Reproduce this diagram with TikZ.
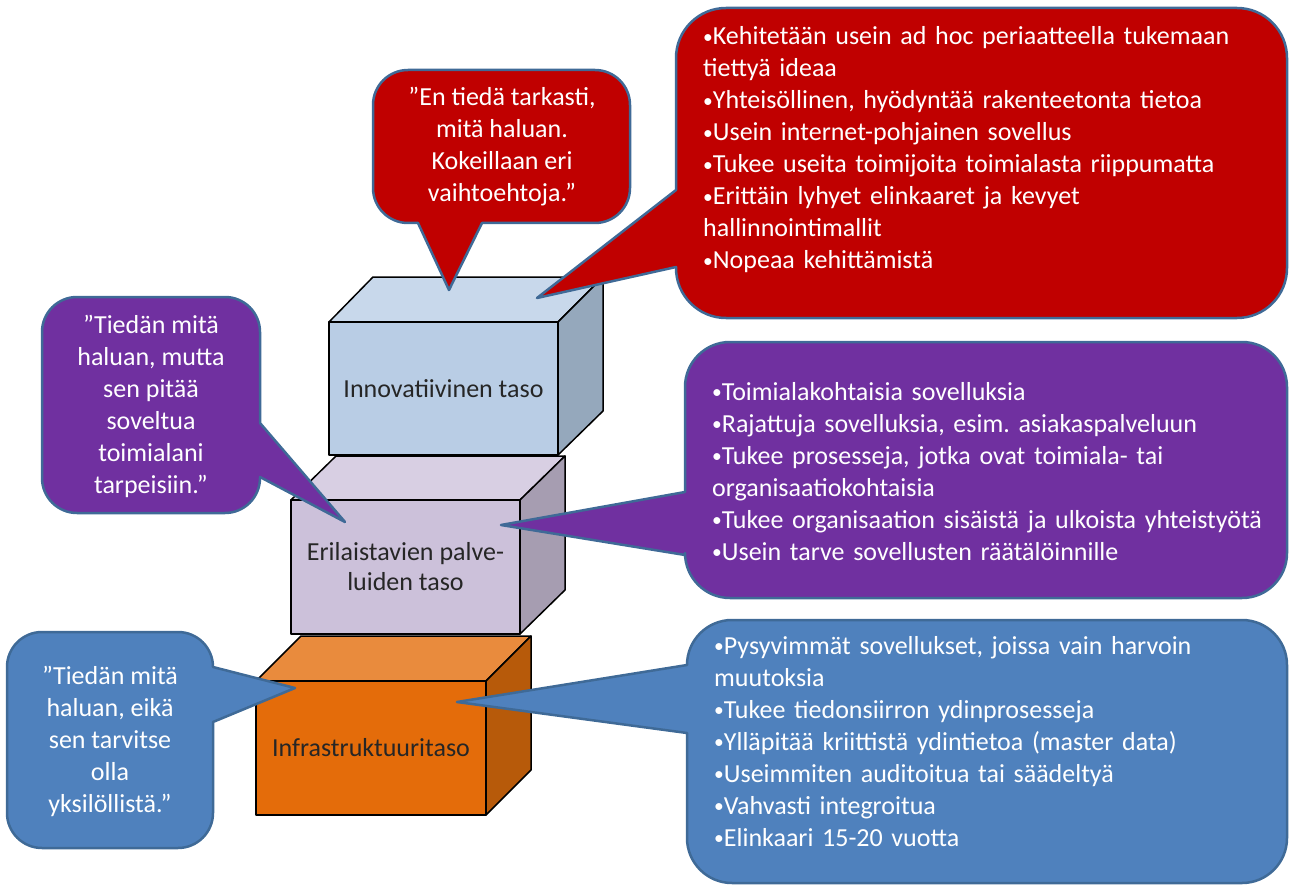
\documentclass[tikz,border=0pt]{standalone}
\usepackage{graphicx}
\usepackage{fontspec}
\setmainfont{Carlito}
\frenchspacing
\definecolor{edgeblue}{HTML}{3F6A97}
\definecolor{cred}{HTML}{C00000}
\definecolor{cpurple}{HTML}{7030A0}
\definecolor{cblue}{HTML}{4F81BD}
\definecolor{bluefront}{HTML}{B9CDE5}
\definecolor{bluetop}{HTML}{C8D8EB}
\definecolor{blueside}{HTML}{95A8BC}
\definecolor{lavfront}{HTML}{CCC1DA}
\definecolor{lavtop}{HTML}{D8CFE3}
\definecolor{lavside}{HTML}{A69DB1}
\definecolor{orfront}{HTML}{E46C0A}
\definecolor{ortop}{HTML}{E98B3D}
\definecolor{orside}{HTML}{B75A0A}
\definecolor{labeltext}{HTML}{262626}
\newcommand{\bul}{\raisebox{1.5pt}{\scalebox{0.75}{•}}}
\begin{document}
\begin{tikzpicture}[x=1pt,y=-1pt,
  cubeedge/.style={draw=black, line width=1.5, line join=round},
  cubefront/.style={cubeedge, text=labeltext, align=center, inner sep=0,
    font=\fontsize{26}{30}\selectfont},
  callout/.style={draw=edgeblue, line width=2.5, line join=round},
  ctext/.style={text=white, inner sep=0, font=\fontsize{26}{32}\selectfont},
  quote/.style={ctext, align=center},
  bullets/.style={ctext, anchor=base west, text width=575, align=left}]
\useasboundingbox (0,0) rectangle (1289,885);

% --- bottom cube: infrastructure
\path[cubeedge, fill=ortop] (256,681) -- (301,636) -- (531,636) -- (486,681) -- cycle;
\path[cubeedge, fill=orside] (486,681) -- (531,636) -- (531,770) -- (486,815) -- cycle;
\node[cubefront, fill=orfront, minimum width=230, minimum height=134] (infra) at (371,748) {Infrastruktuuritaso};

% --- middle cube
\path[cubeedge, fill=lavtop] (291,500) -- (336,456) -- (565,456) -- (520,500) -- cycle;
\path[cubeedge, fill=lavside] (520,500) -- (565,456) -- (565,590) -- (520,634) -- cycle;
\node[cubefront, fill=lavfront, minimum width=229, minimum height=134] (palvelu) at (405.5,567) {Erilaistavien palve-\\luiden taso};

% --- top cube
\path[cubeedge, fill=bluetop] (329,322) -- (373,277) -- (603,277) -- (558,322) -- cycle;
\path[cubeedge, fill=blueside] (558,322) -- (603,277) -- (603,411) -- (558,455) -- cycle;
\node[cubefront, fill=bluefront, minimum width=229, minimum height=133] (innov) at (443.5,388.5) {Innovatiivinen taso};

% --- red small callout
\path[callout, fill=cred] (500,70) [rounded corners=35] -- (630,70) -- (630,223) [sharp corners]
  -- (482,223) -- (449,290) -- (418,223) [rounded corners=35] -- (373,223) -- (373,70) -- cycle;
\node[quote] (q1) at (502,147) {”En tiedä tarkasti,\\mitä haluan.\\Kokeillaan eri\\vaihtoehtoja.”};

% --- red big callout
\path[callout, fill=cred] (980,8) [rounded corners=50] -- (1287,8) -- (1287,318) -- (676,318) [sharp corners]
  -- (676,267) -- (537,298) -- (676,190) [rounded corners=50] -- (676,8) -- cycle;
\node[bullets] (b1) at (703,45) {\bul Kehitetään usein ad hoc periaatteella tukemaan\\
tiettyä ideaa\\
\bul Yhteisöllinen, hyödyntää rakenteetonta tietoa\\
\bul Usein internet-pohjainen sovellus\\
\bul Tukee useita toimijoita toimialasta riippumatta\\
\bul Erittäin lyhyet elinkaaret ja kevyet\\
hallinnointimallit\\
\bul Nopeaa kehittämistä};

% --- purple left callout
\path[callout, fill=cpurple] (150,297) [rounded corners=35] -- (260,297) [sharp corners]
  -- (260,423) -- (345,522) -- (260,477) [rounded corners=35] -- (260,513) -- (42,513) -- (42,297) -- cycle;
\node[quote] (q2) at (151,406) {”Tiedän mitä\\haluan, mutta\\sen pitää\\soveltua\\toimialani\\tarpeisiin.”};

% --- purple right callout
\path[callout, fill=cpurple] (980,342) [rounded corners=45] -- (1287,342) -- (1287,598) -- (685,598) [sharp corners]
  -- (685,555) -- (501,525) -- (685,492) [rounded corners=45] -- (685,342) -- cycle;
\node[bullets] (b2) at (712,400) {\bul Toimialakohtaisia sovelluksia\\
\bul Rajattuja sovelluksia, esim. asiakaspalveluun\\
\bul Tukee prosesseja, jotka ovat toimiala- tai\\
organisaatiokohtaisia\\
\bul Tukee organisaation sisäistä ja ulkoista yhteistyötä\\
\bul Usein tarve sovellusten räätälöinnille};

% --- blue left callout
\path[callout, fill=cblue] (110,632) [rounded corners=35] -- (213,632) [sharp corners]
  -- (213,667) -- (295,688) -- (213,722) [rounded corners=35] -- (213,848) -- (7,848) -- (7,632) -- cycle;
\node[quote] (q3) at (110,741) {”Tiedän mitä\\haluan, eikä\\sen tarvitse\\olla\\yksilöllistä.”};

% --- blue right callout
\path[callout, fill=cblue] (980,620) [rounded corners=45] -- (1287,620) -- (1287,883) -- (687,883) [sharp corners]
  -- (687,733) -- (457,702) -- (687,665) [rounded corners=45] -- (687,620) -- cycle;
\node[bullets] (b3) at (714,654) {\bul Pysyvimmät sovellukset, joissa vain harvoin\\
muutoksia\\
\bul Tukee tiedonsiirron ydinprosesseja\\
\bul Ylläpitää kriittistä ydintietoa (master data)\\
\bul Useimmiten auditoitua tai säädeltyä\\
\bul Vahvasti integroitua\\
\bul Elinkaari 15-20 vuotta};
\end{tikzpicture}
\end{document}
